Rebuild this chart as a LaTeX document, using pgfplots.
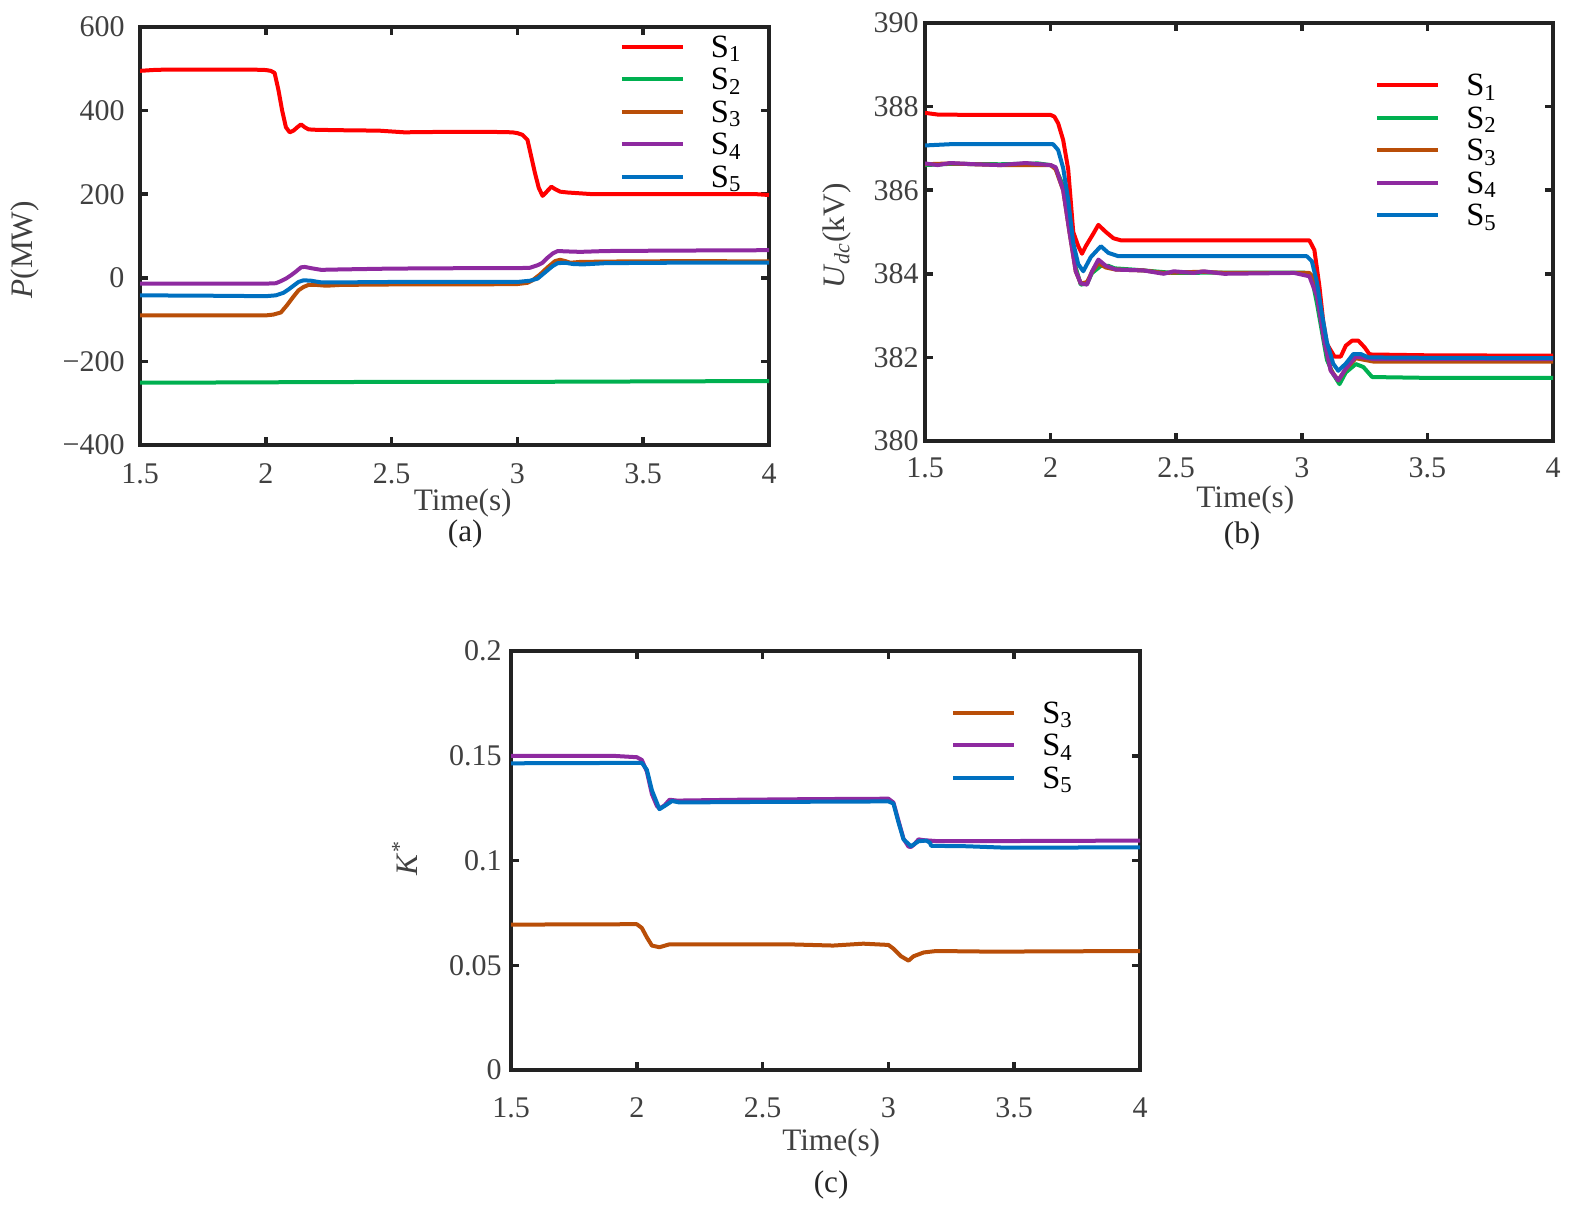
\documentclass[border=0pt]{standalone}
\usepackage{pgfplots}
\pgfplotsset{compat=1.18}
\usepackage{fontspec}
\setmainfont{Liberation Serif}
\newfontfamily\tnr{Liberation Serif}
\definecolor{cS1}{RGB}{255,0,0}
\definecolor{cS2}{RGB}{0,176,80}
\definecolor{cS3}{RGB}{185,78,8}
\definecolor{cS4}{RGB}{142,42,160}
\definecolor{cS5}{RGB}{0,112,192}
\definecolor{frame}{RGB}{34,34,34}
\definecolor{lab}{RGB}{64,64,64}
\pgfplotsset{
  myax/.style={
    scale only axis,
    clip mode=individual,
    xmin=1.5, xmax=4,
    xtick={1.5,2,2.5,3,3.5,4},
    xticklabels={1.5,2,2.5,3,3.5,4},
    minor tick num=0,
    tick align=inside,
    major tick length=3.2pt,
    major tick style={line width=1.4pt, frame},
    axis line style={line width=1.6pt, frame},
    tick label style={font=\tnr\fontsize{12}{14}\selectfont, text=lab, inner sep=0pt},
    xticklabel style={anchor=north},
    yticklabel style={anchor=east},
    label style={font=\tnr\fontsize{12.5}{15}\selectfont, text=lab},
    xlabel={Time(s)},
    legend style={draw=none, fill=none, inner sep=0pt, outer sep=0pt,
      row sep=0pt, column sep=10.4pt, anchor=north west,
      font=\tnr\fontsize{13}{15}\selectfont,
      nodes={inner sep=0pt, text height=9.2pt, text depth=3.8pt}},
    legend cell align=left,
    legend image code/.code={\draw[##1, line width=1.6pt] (0pt,1.5pt) -- (24.4pt,1.5pt);},
    every axis plot/.append style={line width=1.6pt, line join=round},
  }
}
\begin{document}
\begin{tikzpicture}
\path[use as bounding box] (0pt,0pt) rectangle (630.4pt,484.4pt);

% ---------------- (a) ----------------
\begin{axis}[myax,
  at={(56pt,306.4pt)}, anchor=south west,
  width=251.6pt, height=167.2pt,
  ymin=-400, ymax=600,
  ytick={-400,-200,0,200,400,600},
  yticklabels={−400,−200,0,200,400,600},
  xticklabel shift=7.2pt,
  yticklabel shift=6pt,
  ylabel={\textit{P}(MW)},
  ylabel style={at={(axis description cs:-0.183,0.467)}, anchor=center},
  xlabel style={at={(axis description cs:0.513,-0.139)}, anchor=center},
  legend style={at={(axis description cs:0.763,0.983)}},
]
\addplot[cS1] coordinates {
(1.5,495) (1.55,497) (1.6,498) (1.8,498) (1.95,498) (2.0,497) (2.02,495) (2.035,490)
(2.05,450) (2.065,400) (2.08,360) (2.095,348) (2.11,352) (2.125,360) (2.14,367)
(2.155,360) (2.17,355) (2.2,354) (2.3,353) (2.45,352) (2.5,350) (2.55,348) (2.7,349)
(2.9,349) (2.98,348) (3.0,346) (3.02,342) (3.04,330) (3.055,290) (3.07,250) (3.085,215)
(3.1,196) (3.115,205) (3.135,218) (3.15,212) (3.17,206) (3.2,204) (3.25,202) (3.3,200)
(3.5,200) (3.8,200) (3.95,200) (4.0,198)};
\addlegendentry{S\textsubscript{1}}
\addplot[cS2] coordinates {
(1.5,-251) (1.6,-251) (2.0,-250) (2.5,-249) (3.0,-249) (3.5,-248) (4.0,-247)};
\addlegendentry{S\textsubscript{2}}
\addplot[cS3] coordinates {
(1.5,-90) (1.8,-90) (2.0,-90) (2.03,-88) (2.06,-83) (2.085,-65) (2.11,-45) (2.13,-30)
(2.15,-22) (2.17,-17) (2.2,-17) (2.24,-19) (2.3,-17) (2.5,-16) (2.8,-16) (3.0,-15)
(3.04,-12) (3.06,-6) (3.09,8) (3.12,25) (3.15,40) (3.17,43) (3.19,40) (3.21,36)
(3.25,38) (3.4,39) (3.7,40) (4.0,39)};
\addlegendentry{S\textsubscript{3}}
\addplot[cS4] coordinates {
(1.5,-14) (2.0,-14) (2.04,-13) (2.06,-8) (2.08,-2) (2.1,6) (2.12,15) (2.14,25)
(2.155,26) (2.18,23) (2.22,19) (2.3,20) (2.5,22) (2.8,23) (3.0,23) (3.05,24)
(3.08,30) (3.1,36) (3.12,48) (3.14,58) (3.16,64) (3.2,63) (3.25,62) (3.35,64)
(3.6,65) (4.0,66)};
\addlegendentry{S\textsubscript{4}}
\addplot[cS5] coordinates {
(1.5,-42) (1.8,-43) (2.0,-44) (2.04,-42) (2.07,-36) (2.09,-28) (2.11,-19) (2.13,-10)
(2.15,-6) (2.18,-7) (2.22,-11) (2.3,-11) (2.5,-10) (2.8,-10) (3.0,-10) (3.05,-7)
(3.08,-2) (3.1,8) (3.12,18) (3.14,28) (3.16,35) (3.19,36) (3.22,33) (3.26,32)
(3.35,35) (3.6,36) (4.0,36)};
\addlegendentry{S\textsubscript{5}}
\node[font=\tnr\fontsize{12.5}{15}\selectfont, text=black!85] at (axis description cs:0.517,-0.212) {(a)};
\end{axis}

% ---------------- (b) ----------------
\begin{axis}[myax,
  at={(370pt,308pt)}, anchor=south west,
  width=251.2pt, height=167.2pt,
  ymin=380, ymax=390,
  ytick={380,382,384,386,388,390},
  yticklabels={380,382,384,386,388,390},
  xticklabel shift=6.4pt,
  yticklabel shift=2.4pt,
  ylabel={\textit{U}\textsubscript{\textit{dc}}(kV)},
  ylabel style={at={(axis description cs:-0.140,0.490)}, anchor=center},
  xlabel style={at={(axis description cs:0.510,-0.141)}, anchor=center},
  legend style={at={(axis description cs:0.717,0.881)}},
]
\addplot[cS1] coordinates {
(1.5,387.85) (1.55,387.81) (1.7,387.8) (2.0,387.8) (2.015,387.76) (2.03,387.6)
(2.05,387.2) (2.07,386.5) (2.09,385.0) (2.11,384.66) (2.125,384.48) (2.14,384.66)
(2.17,384.96) (2.19,385.17) (2.22,385.0) (2.25,384.85) (2.28,384.8) (2.5,384.8)
(3.0,384.8) (3.03,384.8) (3.05,384.57) (3.07,383.7) (3.085,382.87) (3.1,382.32)
(3.13,382.02) (3.155,382.02) (3.175,382.28) (3.2,382.4) (3.225,382.4) (3.25,382.24)
(3.27,382.07) (3.5,382.05) (4.0,382.04)};
\addlegendentry{S\textsubscript{1}}
\addplot[cS2] coordinates {
(1.5,386.6) (1.6,386.63) (1.8,386.62) (1.95,386.64) (2.0,386.6) (2.02,386.53)
(2.05,386.1) (2.075,385.08) (2.1,384.15) (2.12,383.74) (2.145,383.77) (2.165,384.02)
(2.2,384.19) (2.23,384.19) (2.255,384.13) (2.33,384.1) (2.49,384.02) (2.7,384.03)
(3.01,384.03) (3.04,383.9) (3.06,383.3) (3.08,382.62) (3.1,381.94) (3.125,381.6)
(3.15,381.36) (3.175,381.64) (3.215,381.84) (3.245,381.77) (3.28,381.53) (3.5,381.51)
(4.0,381.51)};
\addlegendentry{S\textsubscript{2}}
\addplot[cS3] coordinates {
(1.5,386.62) (1.6,386.64) (1.8,386.6) (2.0,386.6) (2.02,386.5) (2.05,386.0)
(2.075,385.0) (2.1,384.06) (2.12,383.77) (2.145,383.8) (2.165,384.05) (2.19,384.25)
(2.22,384.15) (2.26,384.1) (2.37,384.08) (2.45,384.02) (2.6,384.05) (2.7,384.02)
(2.97,384.02) (3.03,384.02) (3.05,383.9) (3.07,383.3) (3.09,382.4) (3.115,381.7)
(3.145,381.45) (3.175,381.72) (3.215,381.98) (3.285,381.9) (4.0,381.9)};
\addlegendentry{S\textsubscript{3}}
\addplot[cS4] coordinates {
(1.5,386.64) (1.55,386.6) (1.6,386.65) (1.7,386.62) (1.8,386.6) (1.9,386.65)
(2.0,386.6) (2.02,386.55) (2.05,386.0) (2.075,385.0) (2.1,384.06) (2.12,383.77)
(2.145,383.74) (2.165,384.06) (2.19,384.34) (2.22,384.19) (2.26,384.1) (2.37,384.08)
(2.45,384.0) (2.49,384.06) (2.57,384.02) (2.61,384.06) (2.69,384.0) (2.97,384.02)
(3.03,383.94) (3.06,383.47) (3.09,382.36) (3.115,381.68) (3.145,381.45) (3.175,381.73)
(3.215,382.02) (3.285,381.96) (4.0,381.96)};
\addlegendentry{S\textsubscript{4}}
\addplot[cS5] coordinates {
(1.5,387.07) (1.6,387.1) (2.0,387.1) (2.01,387.1) (2.03,386.96) (2.05,386.53)
(2.07,385.77) (2.09,384.74) (2.11,384.23) (2.13,384.06) (2.16,384.4) (2.2,384.66)
(2.23,384.5) (2.27,384.42) (2.5,384.42) (3.02,384.42) (3.04,384.3) (3.06,383.8)
(3.08,383.04) (3.1,382.36) (3.125,381.85) (3.145,381.68) (3.175,381.85) (3.205,382.08)
(3.235,382.08) (3.265,382.0) (3.5,381.99) (4.0,381.98)};
\addlegendentry{S\textsubscript{5}}
\node[font=\tnr\fontsize{12.5}{15}\selectfont, text=black!85] at (axis description cs:0.505,-0.227) {(b)};
\end{axis}

% ---------------- (c) ----------------
\begin{axis}[myax,
  at={(204.4pt,56.4pt)}, anchor=south west,
  width=251.6pt, height=167.6pt,
  ymin=0, ymax=0.2,
  ytick={0,0.05,0.1,0.15,0.2},
  yticklabels={0,0.05,0.1,0.15,0.2},
  xticklabel shift=10.8pt,
  yticklabel shift=3.6pt,
  ylabel={\textit{K}\textsuperscript{*}},
  ylabel style={at={(axis description cs:-0.169,0.506)}, anchor=center},
  xlabel style={at={(axis description cs:0.509,-0.174)}, anchor=center},
  legend style={at={(axis description cs:0.700,0.883)}},
]
\addplot[cS3] coordinates {
(1.5,0.0694) (2.0,0.0696) (2.02,0.0678) (2.04,0.0633) (2.06,0.0594) (2.09,0.0586)
(2.13,0.06) (2.4,0.06) (2.6,0.06) (2.78,0.0594) (2.9,0.0603) (3.0,0.0597)
(3.02,0.0579) (3.05,0.0543) (3.08,0.0522) (3.1,0.0543) (3.14,0.0561) (3.19,0.0568)
(3.41,0.0565) (4.0,0.0568)};
\addlegendentry{S\textsubscript{3}}
\addplot[cS4] coordinates {
(1.5,0.150) (1.9,0.150) (2.0,0.1493) (2.02,0.148) (2.04,0.1424) (2.06,0.1317)
(2.08,0.126) (2.09,0.1248) (2.11,0.1263) (2.13,0.129) (2.16,0.1286) (2.4,0.129)
(2.7,0.1293) (3.0,0.1295) (3.02,0.1277) (3.04,0.119) (3.06,0.1104) (3.08,0.1066)
(3.09,0.1065) (3.1,0.1074) (3.12,0.1101) (3.14,0.1097) (3.2,0.1092) (3.5,0.1093)
(4.0,0.1095)};
\addlegendentry{S\textsubscript{4}}
\addplot[cS5] coordinates {
(1.5,0.1464) (2.0,0.1466) (2.02,0.1466) (2.04,0.1433) (2.06,0.1335) (2.09,0.1245)
(2.11,0.126) (2.14,0.1284) (2.17,0.1277) (2.4,0.1279) (3.0,0.1282) (3.02,0.1272)
(3.04,0.1182) (3.06,0.1101) (3.09,0.1068) (3.12,0.1092) (3.15,0.1095) (3.165,0.1085)
(3.17,0.107) (3.31,0.1068) (3.47,0.1061) (4.0,0.1063)};
\addlegendentry{S\textsubscript{5}}
\node[font=\tnr\fontsize{12.5}{15}\selectfont, text=black!85] at (axis description cs:0.509,-0.274) {(c)};
\end{axis}
\end{tikzpicture}
\end{document}
